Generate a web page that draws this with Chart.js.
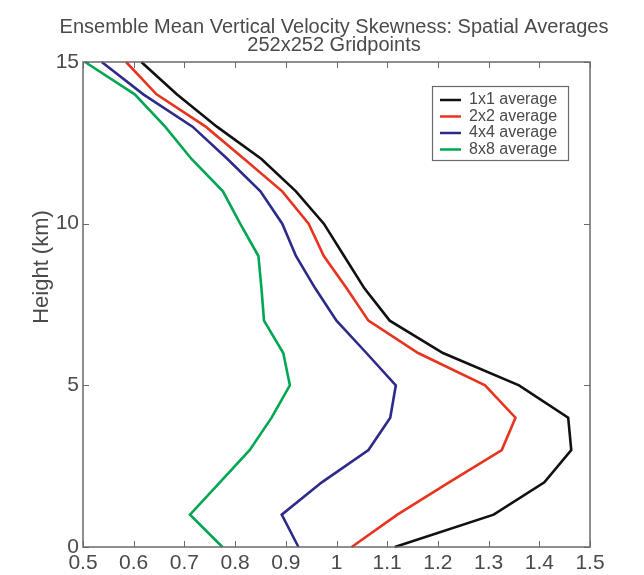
<!DOCTYPE html>
<html>
<head>
<meta charset="utf-8">
<title>Ensemble Mean Vertical Velocity Skewness</title>
<script src="https://cdn.jsdelivr.net/npm/chart.js@4.4.1/dist/chart.umd.min.js"></script>
<style>
  html, body { margin: 0; padding: 0; background: #fff; }
  #wrap { width: 644px; height: 575px; position: relative; }
</style>
</head>
<body>
<div id="wrap"><canvas id="chart" width="644" height="575"></canvas></div>
<script>
'use strict';

// ─── Datos ────────────────────────────────────────────────────────────────────
const heights = [0, 1, 2, 3, 4, 5, 6, 7, 8, 9, 10, 11, 12, 13, 14, 15];

const avg1x1 = [1.115, 1.31, 1.41, 1.463, 1.457, 1.36, 1.21, 1.105, 1.055, 1.015, 0.975, 0.92, 0.852, 0.764, 0.685, 0.615];
const avg2x2 = [1.03, 1.12, 1.222, 1.326, 1.353, 1.293, 1.161, 1.063, 1.02, 0.975, 0.945, 0.893, 0.818, 0.742, 0.645, 0.585];
const avg4x4 = [0.925, 0.892, 0.971, 1.063, 1.106, 1.117, 1.059, 1.0, 0.958, 0.92, 0.893, 0.85, 0.785, 0.716, 0.619, 0.537];
const avg8x8 = [0.775, 0.711, 0.77, 0.829, 0.872, 0.908, 0.895, 0.857, 0.852, 0.846, 0.81, 0.776, 0.714, 0.662, 0.602, 0.504];

const seriesNames = ['1x1 average', '2x2 average', '4x4 average', '8x8 average'];
const xTickLabels = ['0.5', '0.6', '0.7', '0.8', '0.9', '1', '1.1', '1.2', '1.3', '1.4', '1.5'];
const yTickLabels = ['0', '5', '10', '15'];

const titleLines = ['Ensemble Mean Vertical Velocity Skewness: Spatial Averages', '252x252 Gridpoints'];
const yTitle = 'Height (km)';

// ─── Estilo ───────────────────────────────────────────────────────────────────
const COLORS = ['#111111', '#e8341f', '#2e2a8a', '#00a651'];
const AXIS = '#6a6a6a';
const TEXT = '#4a4a4a';
const FONT = "'Liberation Sans', Arial, sans-serif";

const toPoints = vals => vals.map((v, i) => ({ x: v, y: heights[i] }));

// Marco, ticks hacia dentro, títulos y leyenda
const decorPlugin = {
    id: 'decor',
    afterDraw(chart) {
        const { ctx, chartArea: a, scales } = chart;
        ctx.save();
        ctx.strokeStyle = AXIS;
        ctx.lineWidth = 1.5;
        ctx.strokeRect(a.left, a.top, a.right - a.left, a.bottom - a.top);

        const tk = 6;
        ctx.beginPath();
        scales.x.ticks.forEach(t => {
            const px = Math.round(scales.x.getPixelForValue(t.value)) + 0.5;
            ctx.moveTo(px, a.bottom); ctx.lineTo(px, a.bottom - tk);
            ctx.moveTo(px, a.top); ctx.lineTo(px, a.top + tk);
        });
        scales.y.ticks.forEach(t => {
            const py = Math.round(scales.y.getPixelForValue(t.value)) + 0.5;
            ctx.moveTo(a.left, py); ctx.lineTo(a.left + tk, py);
            ctx.moveTo(a.right, py); ctx.lineTo(a.right - tk, py);
        });
        ctx.lineWidth = 1;
        ctx.stroke();

        // Título
        ctx.fillStyle = TEXT;
        ctx.textAlign = 'center';
        ctx.textBaseline = 'middle';
        ctx.font = `20px ${FONT}`;
        ctx.fillText(titleLines[0], 334, 27);
        ctx.fillText(titleLines[1], 334, 45);

        // Eje Y
        ctx.save();
        ctx.translate(42, 267);
        ctx.rotate(-Math.PI / 2);
        ctx.font = `22px ${FONT}`;
        ctx.fillText(yTitle, 0, 0);
        ctx.restore();

        // Leyenda
        const lx = 432, ly = 86, lw = 136, lh = 74;
        ctx.fillStyle = '#fff';
        ctx.fillRect(lx, ly, lw, lh);
        ctx.strokeStyle = AXIS;
        ctx.lineWidth = 1.2;
        ctx.strokeRect(lx + 0.5, ly + 0.5, lw, lh);
        ctx.font = `16px ${FONT}`;
        ctx.textAlign = 'left';
        seriesNames.forEach((name, i) => {
            const y = ly + 14 + i * 16.5;
            ctx.strokeStyle = COLORS[i];
            ctx.lineWidth = 2.5;
            ctx.beginPath();
            ctx.moveTo(lx + 8, y); ctx.lineTo(lx + 29, y);
            ctx.stroke();
            ctx.fillStyle = TEXT;
            ctx.fillText(name, lx + 37, y);
        });
        ctx.restore();
    },
};

const datasets = [avg1x1, avg2x2, avg4x4, avg8x8].map((vals, i) => ({
    label: seriesNames[i],
    data: toPoints(vals),
    showLine: true,
    borderColor: COLORS[i],
    borderWidth: 2.6,
    pointRadius: 0,
    tension: 0,
}));

new Chart(document.getElementById('chart'), {
    type: 'scatter',
    data: { datasets },
    options: {
        responsive: false,
        animation: false,
        clip: false,
        layout: { padding: { left: 0, right: 54, top: 62, bottom: 0 } },
        plugins: {
            legend: { display: false },
            title: { display: false },
            tooltip: { enabled: false },
        },
        scales: {
            x: {
                type: 'linear',
                min: 0.5,
                max: 1.5,
                grid: { display: false, drawTicks: false },
                border: { display: false },
                ticks: {
                    stepSize: 0.1,
                    padding: 4,
                    color: TEXT,
                    font: { family: FONT, size: 21 },
                    maxRotation: 0,
                    autoSkip: false,
                    callback: (v, i) => xTickLabels[i],
                },
                afterFit: s => { s.height = 28; },
            },
            y: {
                type: 'linear',
                min: 0,
                max: 15,
                grid: { display: false, drawTicks: false },
                border: { display: false },
                ticks: {
                    stepSize: 5,
                    padding: 4,
                    color: TEXT,
                    font: { family: FONT, size: 21 },
                    callback: (v, i) => yTickLabels[i],
                },
                afterFit: s => { s.width = 83; },
            },
        },
    },
    plugins: [decorPlugin],
});
</script>
</body>
</html>
